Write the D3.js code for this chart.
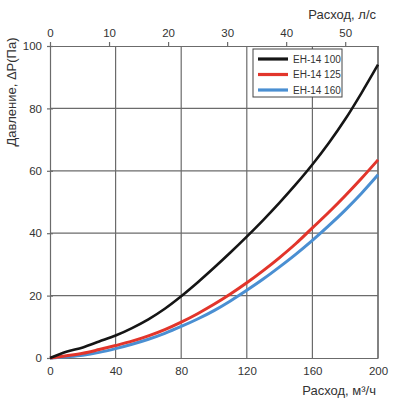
<!DOCTYPE html>
<html>
<head>
<meta charset="utf-8">
<script src="https://cdn.jsdelivr.net/npm/d3@7"></script>
<style>
    body { margin: 0; background: #fff; }
    svg text { font-family: "Liberation Sans", Arial, sans-serif; fill: #333; }
</style>
</head>
<body>
<div id="chart"></div>
<script>
// flow, m3/h
const flow = [0, 10, 20, 30, 40, 50, 60, 70, 80, 90, 100, 110, 120, 130, 140, 150, 160, 170, 180, 190, 200];
// pressure, Pa
const eh100 = [0, 2, 3.4, 5.3, 7.2, 9.6, 12.4, 15.8, 19.8, 24.2, 28.9, 33.8, 38.9, 44.2, 49.8, 55.7, 62, 68.9, 76.5, 85, 94];
const eh125 = [0, 0.7, 1.5, 2.7, 4, 5.4, 7.1, 9.1, 11.5, 14.2, 17.2, 20.5, 24.1, 28, 32.2, 36.7, 41.7, 46.7, 52, 57.6, 63.5];
const eh160 = [0, 0.4, 0.9, 1.8, 3, 4.4, 6, 7.9, 10.1, 12.5, 15.2, 18.3, 21.7, 25.3, 29.2, 33.3, 37.7, 42.4, 47.4, 52.8, 58.7];

const series = [
    { name: 'EH-14 100', values: eh100, color: '#151515', width: 2.6 },
    { name: 'EH-14 125', values: eh125, color: '#e2352b', width: 3 },
    { name: 'EH-14 160', values: eh160, color: '#4a8fd2', width: 3 },
];

const xTicks = [0, 40, 80, 120, 160, 200];
const yTicks = [0, 20, 40, 60, 80, 100];
const lsTicks = [0, 10, 20, 30, 40, 50];

const margin = { top: 46, right: 22, bottom: 49, left: 50 };
const W = 400, H = 407;
const width = W - margin.left - margin.right;
const height = H - margin.top - margin.bottom;

const svg = d3.select('#chart').append('svg')
    .attr('width', W)
    .attr('height', H);

const main = svg.append('g')
    .attr('transform', `translate(${margin.left},${margin.top})`);

const x = d3.scaleLinear().domain([0, 200]).range([0, width]);
const y = d3.scaleLinear().domain([0, 100]).range([height, 0]);
// top axis in l/s (1 l/s = 3.6 m3/h)
const xLs = d3.scaleLinear().domain([0, 200 / 3.6]).range([0, width]);

const gridColor = '#6b6b6b';

// grid
main.append('g')
    .selectAll('line')
    .data(xTicks.slice(1))
    .join('line')
    .attr('x1', d => x(d)).attr('x2', d => x(d))
    .attr('y1', 0).attr('y2', height)
    .attr('stroke', gridColor).attr('stroke-width', 1.2);

main.append('g')
    .selectAll('line')
    .data(yTicks.slice(1, -1))
    .join('line')
    .attr('x1', 0).attr('x2', width)
    .attr('y1', d => y(d)).attr('y2', d => y(d))
    .attr('stroke', gridColor).attr('stroke-width', 1.2);

// axes
const styleAxis = g => {
    g.select('.domain').attr('stroke', gridColor).attr('stroke-width', 1.2);
    g.selectAll('.tick line').attr('stroke', gridColor).attr('stroke-width', 1.2);
    g.selectAll('.tick text').style('font-size', '11.5px').attr('fill', '#333');
};

main.append('g')
    .attr('transform', `translate(0,${height})`)
    .call(d3.axisBottom(x).tickValues(xTicks).tickSize(0).tickPadding(9))
    .call(styleAxis);

main.append('g')
    .call(d3.axisLeft(y).tickValues(yTicks).tickSize(3).tickPadding(5))
    .call(styleAxis)
    .call(g => g.selectAll('.tick line').attr('x2', 3).attr('x1', -3));

main.append('g')
    .call(d3.axisTop(xLs).tickValues(lsTicks).tickSize(4).tickPadding(5).tickSizeOuter(0))
    .call(styleAxis);

main.append('line')
    .attr('x1', width).attr('x2', width)
    .attr('y1', 0).attr('y2', height)
    .attr('stroke', gridColor).attr('stroke-width', 1.2);

// curves
const line = d3.line()
    .x((d, i) => x(flow[i]))
    .y(d => y(d))
    .curve(d3.curveCatmullRom.alpha(0.5));

main.append('g')
    .selectAll('path')
    .data(series.slice().reverse())
    .join('path')
    .attr('d', d => line(d.values))
    .attr('fill', 'none')
    .attr('stroke', d => d.color)
    .attr('stroke-width', d => d.width)
    .attr('stroke-linejoin', 'round');

// legend
const legend = main.append('g')
    .attr('transform', 'translate(203,3)');

legend.append('rect')
    .attr('width', 89).attr('height', 48)
    .attr('fill', '#fff')
    .attr('stroke', '#444').attr('stroke-width', 1);

const items = legend.selectAll('g.item')
    .data(series)
    .join('g')
    .attr('class', 'item')
    .attr('transform', (d, i) => `translate(0,${10 + i * 15.5})`);

items.append('line')
    .attr('x1', 5).attr('x2', 35)
    .attr('stroke', d => d.color)
    .attr('stroke-width', 3.2);

items.append('text')
    .attr('x', 40).attr('dy', '0.35em')
    .style('font-size', '10px')
    .text(d => d.name);

// titles
svg.append('text')
    .attr('x', 376).attr('y', 19)
    .attr('text-anchor', 'end')
    .style('font-size', '13px')
    .text('Расход, л/с');

svg.append('text')
    .attr('x', 376).attr('y', 395)
    .attr('text-anchor', 'end')
    .style('font-size', '13px')
    .text('Расход, м³/ч');

svg.append('text')
    .attr('transform', 'translate(16,92) rotate(-90)')
    .attr('text-anchor', 'middle')
    .style('font-size', '13px')
    .text('Давление, ΔP(Па)');
</script>
</body>
</html>
